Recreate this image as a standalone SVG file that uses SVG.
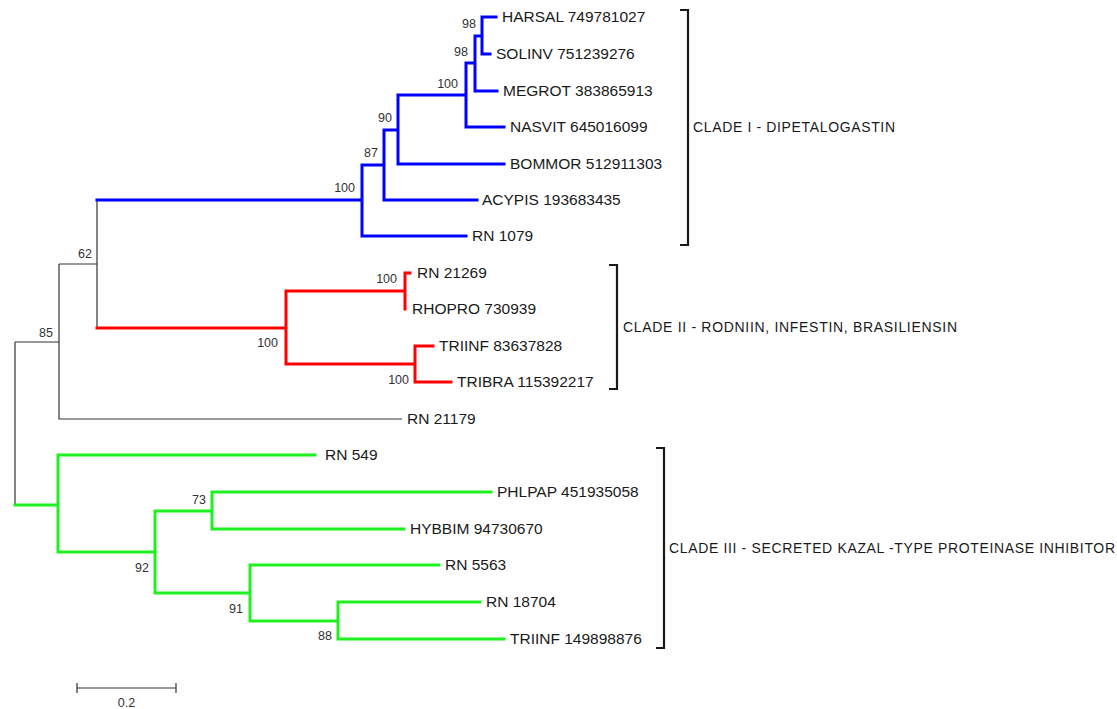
<svg xmlns="http://www.w3.org/2000/svg" width="1117" height="709" viewBox="0 0 1117 709">
<style>
.leaf{font-family:"Liberation Sans",Arial,sans-serif;font-size:15.5px;fill:#1a1a1a}
.bs{font-family:"Liberation Sans",Arial,sans-serif;font-size:12.5px;fill:#333;text-anchor:end}
.clade{font-family:"Liberation Sans",Arial,sans-serif;font-size:14px;fill:#1a1a1a}
.b{fill:none;stroke:#0000ff;stroke-width:3;stroke-linecap:square}
.r{fill:none;stroke:#ff0000;stroke-width:3;stroke-linecap:square}
.g{fill:none;stroke:#1ff01f;stroke-width:3;stroke-linecap:square}
.k{fill:none;stroke:#333;stroke-width:1.2}
.br{fill:none;stroke:#1a1a1a;stroke-width:2.2}
</style>
<rect width="1117" height="709" fill="#fff"/>
<g id="connectors">
  <!-- black backbone -->
  <path class="k" d="M15,342 V505 M15,342 H59 M59,264 V419 H402 M59,264 H97 M97,200 V328"/>
  <!-- blue clade -->
  <path class="b" d="M97,200 H362 M362,165 V236 H466 M362,165 H384 M384,130 V200 H477 M384,130 H398 M398,95 V164 H504 M398,95 H466 M466,63 V127 H504 M466,63 H475 M475,36 V91 H497 M475,36 H482 M482,17 V54 H490 M482,17 H496"/>
  <!-- red clade -->
  <path class="r" d="M97,328 H286 M286,291 V364 M286,291 H405 M405,273 V309 M405,273 H410 M286,364 H415 M415,346 V382 H451 M415,346 H433"/>
  <!-- green clade -->
  <path class="g" d="M15,505 H58 M58,455 V552 M58,455 H315 M58,552 H155 M155,511 V593 M155,511 H212 M212,492 V529 H404 M212,492 H491 M155,593 H250 M250,565 V621 M250,565 H439 M250,621 H338 M338,602 V639 H504 M338,602 H480"/>
</g>
<g id="leaves">
  <g id="leaf-harsal"><text class="leaf" x="502" y="22">HARSAL 749781027</text></g>
  <g id="leaf-solinv"><text class="leaf" x="496" y="59">SOLINV 751239276</text></g>
  <g id="leaf-megrot"><text class="leaf" x="503" y="96">MEGROT 383865913</text></g>
  <g id="leaf-nasvit"><text class="leaf" x="510" y="132">NASVIT 645016099</text></g>
  <g id="leaf-bommor"><text class="leaf" x="510" y="169">BOMMOR 512911303</text></g>
  <g id="leaf-acypis"><text class="leaf" x="482" y="205">ACYPIS 193683435</text></g>
  <g id="leaf-rn1079"><text class="leaf" x="472" y="241">RN 1079</text></g>
  <g id="leaf-rn21269"><text class="leaf" x="417" y="278">RN 21269</text></g>
  <g id="leaf-rhopro"><text class="leaf" x="412" y="314">RHOPRO 730939</text></g>
  <g id="leaf-triinf1"><text class="leaf" x="439" y="351">TRIINF 83637828</text></g>
  <g id="leaf-tribra"><text class="leaf" x="457" y="387">TRIBRA 115392217</text></g>
  <g id="leaf-rn21179"><text class="leaf" x="407" y="424">RN 21179</text></g>
  <g id="leaf-rn549"><text class="leaf" x="325" y="460">RN 549</text></g>
  <g id="leaf-phlpap"><text class="leaf" x="497" y="497">PHLPAP 451935058</text></g>
  <g id="leaf-hybbim"><text class="leaf" x="410" y="534">HYBBIM 94730670</text></g>
  <g id="leaf-rn5563"><text class="leaf" x="445" y="570">RN 5563</text></g>
  <g id="leaf-rn18704"><text class="leaf" x="486" y="607">RN 18704</text></g>
  <g id="leaf-triinf2"><text class="leaf" x="510" y="644">TRIINF 149898876</text></g>
</g>
<g id="bootstrap">
  <g id="node-b1"><text class="bs" x="476" y="28">98</text></g>
  <g id="node-b2"><text class="bs" x="468" y="56">98</text></g>
  <g id="node-b3"><text class="bs" x="458" y="88">100</text></g>
  <g id="node-b4"><text class="bs" x="392" y="122">90</text></g>
  <g id="node-b5"><text class="bs" x="378" y="157">87</text></g>
  <g id="node-b6"><text class="bs" x="355" y="192">100</text></g>
  <g id="node-62"><text class="bs" x="92" y="258">62</text></g>
  <g id="node-85"><text class="bs" x="53" y="337">85</text></g>
  <g id="node-r1"><text class="bs" x="397" y="283">100</text></g>
  <g id="node-r3"><text class="bs" x="278" y="347">100</text></g>
  <g id="node-r2"><text class="bs" x="409" y="384">100</text></g>
  <g id="node-g73"><text class="bs" x="206" y="504">73</text></g>
  <g id="node-g92"><text class="bs" x="149" y="572">92</text></g>
  <g id="node-g91"><text class="bs" x="243" y="613">91</text></g>
  <g id="node-g88"><text class="bs" x="332" y="640">88</text></g>
</g>
<g id="clades">
  <g id="clade-1">
    <path class="br" d="M680,10 H688 V245 H680"/>
    <text class="clade" x="693" y="132" textLength="202" lengthAdjust="spacing">CLADE I - DIPETALOGASTIN</text>
  </g>
  <g id="clade-2">
    <path class="br" d="M609,265 H617 V389 H609"/>
    <text class="clade" x="623" y="332" textLength="334" lengthAdjust="spacing">CLADE II - RODNIIN, INFESTIN, BRASILIENSIN</text>
  </g>
  <g id="clade-3">
    <path class="br" d="M656,448 H664 V648 H656"/>
    <text class="clade" x="669" y="553" textLength="446" lengthAdjust="spacing">CLADE III - SECRETED KAZAL -TYPE PROTEINASE INHIBITOR</text>
  </g>
</g>
<g id="scale-bar">
  <path class="k" d="M77,688 H176 M77,683 V693 M176,683 V693"/>
  <text class="bs" x="126.5" y="707" style="text-anchor:middle">0.2</text>
</g>
</svg>
